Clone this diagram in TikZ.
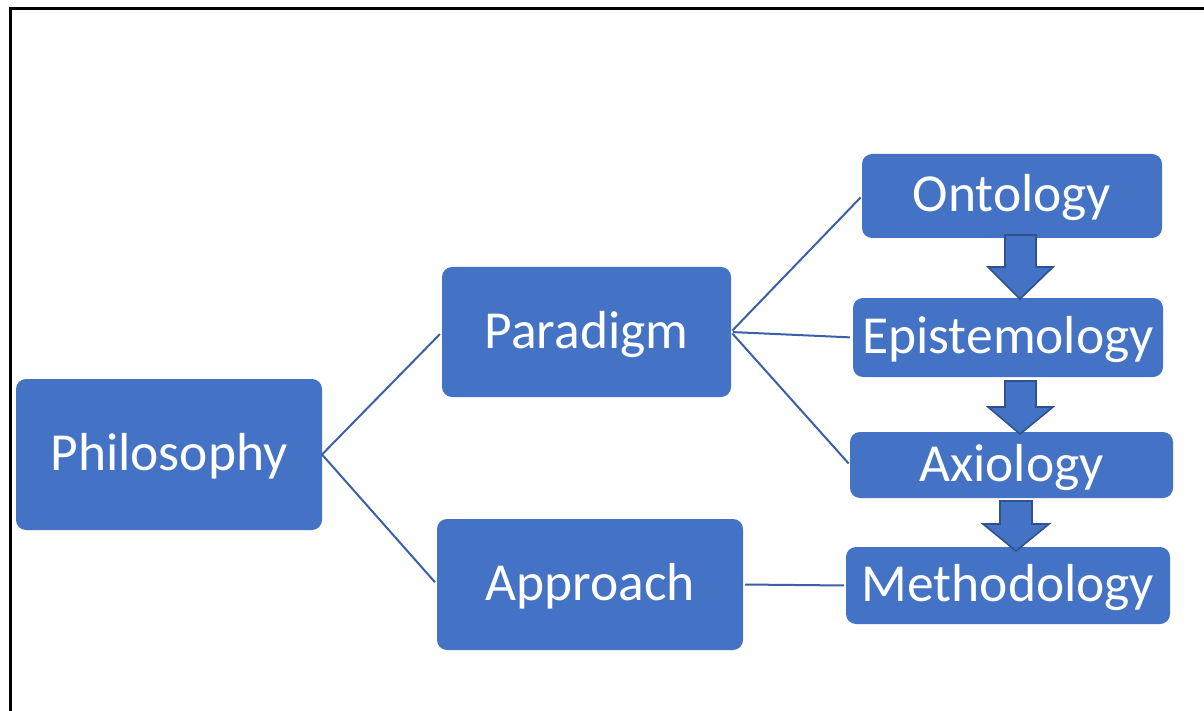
\documentclass[tikz,border=0pt]{standalone}
\usepackage{fontspec}
\setmainfont{Carlito}
\definecolor{boxblue}{HTML}{4472C4}
\definecolor{linkblue}{RGB}{59,96,168}
\definecolor{arrowedge}{HTML}{2F528F}
\begin{document}
\begin{tikzpicture}[x=1pt,y=-1pt,
  box/.style={draw=none,fill=boxblue,rounded corners=10pt,inner sep=0pt,outer sep=0pt,
    text=white,font=\fontsize{53.5}{60}\selectfont,anchor=center,
    text height=37pt,text depth=5pt},
  link/.style={draw=linkblue,line width=2pt},
  blockarrow/.style={fill=boxblue,draw=arrowedge,line width=1.6pt,line join=miter}]
\useasboundingbox (0,0) rectangle (1204,711);
\fill[white] (0,0) rectangle (1204,711);
\draw[line width=3pt] (10,711) -- (10,9) -- (1204,9);
\node[box,minimum width=306pt,minimum height=151pt] (phil) at (169,454.5) {Philosophy};
\node[box,minimum width=289pt,minimum height=130pt] (para) at (586.5,332) {Paradigm};
\node[box,minimum width=306pt,minimum height=131pt] (appr) at (590,584.5) {Approach};
\node[box,minimum width=300pt,minimum height=84pt] (onto) at (1012,196) {Ontology};
\node[box,minimum width=310pt,minimum height=79pt] (epis) at (1008,337.5) {Epistemology};
\node[box,minimum width=323pt,minimum height=66pt] (axio) at (1011.5,465) {Axiology};
\node[box,minimum width=324pt,minimum height=77pt] (meth) at (1008,585.5) {Methodology};
\draw[link,shorten >=3pt] (phil.east) -- (para.west);
\draw[link,shorten >=3pt] (phil.east) -- (appr.west);
\draw[link,shorten <=2pt,shorten >=2pt] (para.east) -- (onto.west);
\draw[link,shorten <=2pt,shorten >=3pt] (para.east) -- (epis.west);
\draw[link,shorten <=2pt,shorten >=2pt] (para.east) -- (axio.west);
\draw[link,shorten <=2pt,shorten >=2pt] (appr.east) -- (meth.west);
\draw[blockarrow] (1005,235) -- (1036,235) -- (1036,267) -- (1053,267) -- (1020,299) -- (988,267) -- (1005,267) -- cycle;
\draw[blockarrow] (1005,381) -- (1036,381) -- (1036,407) -- (1053,407) -- (1020,434) -- (988,407) -- (1005,407) -- cycle;
\draw[blockarrow] (1000,501) -- (1032,501) -- (1032,524) -- (1049,524) -- (1016,551) -- (983,524) -- (1000,524) -- cycle;
\end{tikzpicture}
\end{document}
